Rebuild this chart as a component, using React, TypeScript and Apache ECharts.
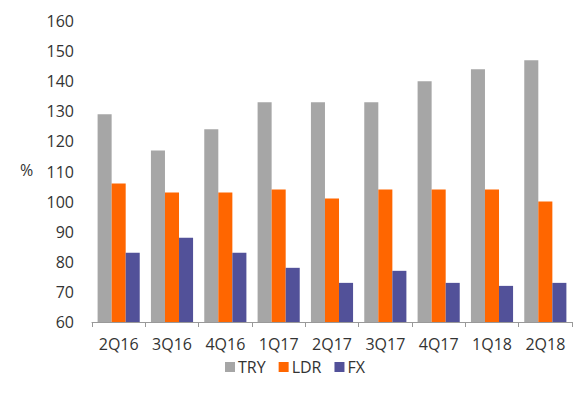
import React, { useEffect, useRef } from "react";
import * as echarts from "echarts";

const categories = ["2Q16", "3Q16", "4Q16", "1Q17", "2Q17", "3Q17", "4Q17", "1Q18", "2Q18"];
const tryValues = [129, 117, 124, 133, 133, 133, 140, 144, 147];
const ldrValues = [106, 103, 103, 104, 101, 104, 104, 104, 100];
const fxValues = [83, 88, 83, 78, 73, 77, 73, 72, 73];

const FONT = "Open Sans";
const TEXT = "#333333";
const FS = 16;

export default function App() {
  const ref = useRef<HTMLDivElement>(null);
  useEffect(() => {
    if (!ref.current) return;
    const chart = echarts.init(ref.current, undefined, { renderer: "svg" });
    chart.setOption({
      animation: false,
      textStyle: { fontFamily: FONT },
      grid: { left: 92, right: 15, top: 21, bottom: 76, containLabel: false },
      legend: {
        top: 359,
        left: 225,
        itemWidth: 10,
        itemHeight: 10,
        itemGap: 13,
        icon: "rect",
        padding: 0,
        textStyle: { fontFamily: FONT, fontSize: FS, color: TEXT, padding: [0, 0, 0, -2] },
        data: ["TRY", "LDR", "FX"],
      },
      graphic: [
        {
          type: "text",
          left: 20,
          top: 162,
          style: { text: "%", fontFamily: FONT, fontSize: FS, fill: TEXT },
        },
      ],
      xAxis: {
        type: "category",
        data: categories,
        axisLine: { show: true, lineStyle: { color: "#999999", width: 1 } },
        axisTick: { show: true, length: 5, lineStyle: { color: "#999999" } },
        axisLabel: { fontFamily: FONT, fontSize: FS, color: TEXT, margin: 14, interval: 0 },
      },
      yAxis: {
        type: "value",
        min: 60,
        max: 160,
        interval: 10,
        axisLine: { show: false },
        axisTick: { show: false },
        splitLine: { show: false },
        axisLabel: { fontFamily: FONT, fontSize: FS, color: TEXT, margin: 18 },
      },
      series: [
        { name: "TRY", type: "bar", data: tryValues, itemStyle: { color: "#a6a6a6" }, barGap: "0%", barCategoryGap: "21%" },
        { name: "LDR", type: "bar", data: ldrValues, itemStyle: { color: "#ff6600" } },
        { name: "FX", type: "bar", data: fxValues, itemStyle: { color: "#525199" } },
      ],
    });
    return () => chart.dispose();
  }, []);
  return <div ref={ref} style={{ width: 587, height: 398, position: "absolute", left: 0, top: 0 }} />;
}
